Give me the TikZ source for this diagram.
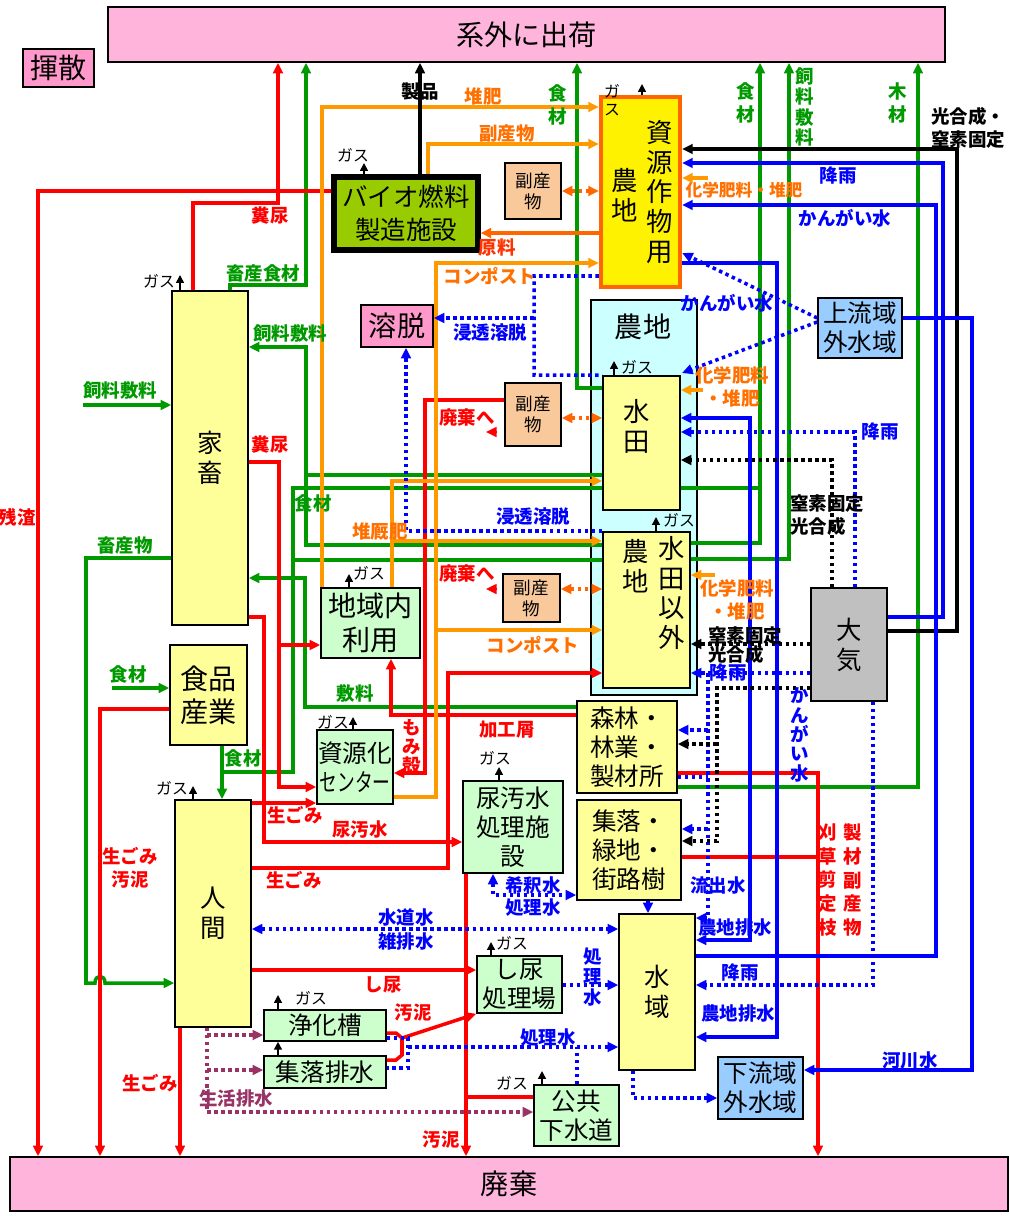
\documentclass[tikz,border=0pt]{standalone}
\usepackage{fontspec}
\usepackage{graphicx}
\setmainfont{Noto Sans CJK JP}
\usetikzlibrary{arrows.meta}

\definecolor{pinkbg}{HTML}{FFB4DC}
\definecolor{pinkdk}{HTML}{FF99CC}
\definecolor{yelbg}{HTML}{FFFF99}
\definecolor{grnbg}{HTML}{CCFFCC}
\definecolor{peachbg}{HTML}{F9C99B}
\definecolor{biobg}{HTML}{99CC00}
\definecolor{blubg}{HTML}{99CCFF}
\definecolor{grybg}{HTML}{C0C0C0}
\definecolor{cyanbg}{HTML}{CCFFFF}
\definecolor{lnred}{HTML}{FF0000}
\definecolor{lngrn}{HTML}{009900}
\definecolor{lnblu}{HTML}{0000FF}
\definecolor{lnorg}{HTML}{FF9900}
\definecolor{lnorgdk}{HTML}{FF6600}
\definecolor{txorg}{HTML}{FF7000}
\definecolor{txorgred}{HTML}{FF3300}
\definecolor{lnpur}{HTML}{993366}

\newcommand\fntA{\fontsize{16}{19}\selectfont}
\newcommand\fntB{\fontsize{14}{16.5}\selectfont}
\newcommand\fntBio{\fontsize{14.5}{18.5}\selectfont}
\newcommand\fntC{\fontsize{10}{12}\selectfont}
\newcommand\fntV{\fontsize{15}{17}\selectfont}
\newcommand\fntP{\fontsize{14.5}{17}\selectfont}
\newcommand\fntL{\bfseries\fontsize{10.5}{13}\selectfont}
\newcommand\fntLS{\bfseries\fontsize{9.5}{12}\selectfont}
\newcommand\fntLVa{\bfseries\fontsize{10.5}{11}\selectfont}
\newcommand\fntLVb{\bfseries\fontsize{10.5}{11.5}\selectfont}
\newcommand\fntLVc{\bfseries\fontsize{10.5}{13.5}\selectfont}
\newcommand\fntLN{\bfseries\fontsize{10.5}{9.5}\selectfont}
\newcommand\fntG{\fontsize{9}{10}\selectfont}

\tikzset{
  box/.style={draw, line width=0.9pt, inner sep=0pt, align=center},
  pinkbox/.style={box, fill=pinkbg, font=\fntA},
  yelbox/.style={box, fill=yelbg},
  grnbox/.style={box, fill=grnbg},
  peachbox/.style={box, fill=peachbg, font=\fntC},
  blubox/.style={box, fill=blubg, font=\fntB},
  txt/.style={inner sep=0pt, align=center},
  flow/.style={line width=2pt},
  ar/.style={-{Triangle[length=6pt,width=5.5pt]}},
  ar2/.style={{Triangle[length=6pt,width=5.5pt]}-{Triangle[length=6pt,width=5.5pt]}},
  dotline/.style={dash pattern=on 2pt off 2pt},
  rd/.style={flow, draw=lnred},
  gr/.style={flow, draw=lngrn},
  bl/.style={flow, draw=lnblu},
  og/.style={flow, draw=lnorg},
  bk/.style={flow, draw=black},
  bld/.style={bl, dotline},
  bkd/.style={bk, dotline},
  ogd/.style={flow, draw=lnorgdk, dotline},
  pud/.style={flow, draw=lnpur, dotline},
  gas/.style={draw=black, line width=0.9pt, -{Triangle[length=4.5pt,width=4.5pt]}},
  gastxt/.style={txt, font=\fntG},
  lab/.style={txt, font=\fntL},
  labr/.style={lab, text=lnred},
  labg/.style={lab, text=lngrn},
  labb/.style={lab, text=lnblu},
  labo/.style={lab, text=txorg},
  labk/.style={lab, text=black},
  labp/.style={lab, text=lnpur}
}

\begin{document}
\begin{tikzpicture}[x=0.02cm, y=-0.02cm]
\useasboundingbox (0,0) rectangle (1009,1216);
% boxes
\node[pinkbox, minimum width=16.74cm, minimum height=1.1cm] (shuka) at (526.5,34.5) {系外に出荷};
\node[pinkbox, minimum width=19.96cm, minimum height=1.08cm] (haiki) at (509,1184) {廃棄};
\node[pinkbox, fill=pinkdk, minimum width=1.42cm, minimum height=0.76cm] (kisan) at (58.5,68) {揮散};
\node[box, fill=biobg, line width=3pt, minimum width=2.88cm, minimum height=1.46cm, font=\fntBio] (bio) at (406,213.5) {バイオ燃料\\製造施設};
\node[peachbox, minimum width=1.12cm, minimum height=1.12cm] (fuku1) at (533,191) {副産\\物};
\node[peachbox, minimum width=1.12cm, minimum height=1.26cm] (fuku2) at (533,414.5) {副産\\物};
\node[peachbox, minimum width=1.14cm, minimum height=0.96cm] (fuku3) at (531.5,598) {副産\\物};
\node[box, fill=yellow, draw=lnorgdk, line width=2.5pt, minimum width=1.58cm, minimum height=3.8cm] (shigen) at (640.5,192) {};
\node[txt, font=\fntV] (shigenA) at (625,195) {農\\地};
\node[txt, font=\fntV] (shigenB) at (660,192) {資\\源\\作\\物\\用};
\node[pinkbox, fill=pinkdk, minimum width=1.44cm, minimum height=0.84cm] (yodatsu) at (397,326) {溶脱};
\node[box, fill=cyanbg, minimum width=2.12cm, minimum height=7.9cm] (nochi) at (644,497.5) {};
\node[txt, font=\fntA] (nochiT) at (643,327) {農地};
\node[yelbox, minimum width=1.54cm, minimum height=2.68cm] (suiden) at (641.5,443) {};
\node[txt, font=\fntV] (suidenT) at (637,426) {水\\田};
\node[yelbox, minimum width=1.74cm, minimum height=3.12cm] (hatake) at (646.5,610) {};
\node[txt, font=\fntV] (hatakeA) at (636,566) {農\\地};
\node[txt, font=\fntV] (hatakeB) at (672,593) {水\\田\\以\\外};
\node[blubox, minimum width=1.68cm, minimum height=1.2cm] (joryu) at (860,328) {上流域\\外水域};
\node[box, fill=grybg, minimum width=1.52cm, minimum height=2.26cm, font=\fntP] (taiki) at (849,644.5) {大\\気};
\node[yelbox, minimum width=1.52cm, minimum height=6.68cm, font=\fntP] (kachiku) at (210,458) {家\\畜};
\node[yelbox, minimum width=1.54cm, minimum height=2cm, font=\fntA] (shokuhin) at (208.5,695) {食品\\産業};
\node[grnbox, minimum width=1.98cm, minimum height=1.4cm, font=\fntA] (chiiki) at (370.5,623) {地域内\\利用};
\node[grnbox, minimum width=1.52cm, minimum height=1.48cm, font=\fntB] (center) at (355,767) {資源化\\\scalebox{0.72}[1]{センター}};
\node[yelbox, minimum width=2cm, minimum height=1.84cm, font=\fntB] (shinrin) at (627,747) {森林・\\林業・\\製材所};
\node[grnbox, minimum width=2cm, minimum height=1.84cm, font=\fntB] (nyoosui) at (513,827) {尿汚水\\処理施\\設};
\node[yelbox, minimum width=2.08cm, minimum height=2cm, font=\fntB] (shuraku) at (629,850) {集落・\\緑地・\\街路樹};
\node[yelbox, minimum width=1.52cm, minimum height=4.54cm, font=\fntP] (ningen) at (213,913.5) {人\\間};
\node[yelbox, minimum width=1.52cm, minimum height=3.12cm, font=\fntP] (suiiki) at (657,992) {水\\域};
\node[grnbox, minimum width=1.7cm, minimum height=1.14cm, font=\fntB] (shinyo) at (519.5,984.5) {し尿\\処理場};
\node[grnbox, minimum width=2.44cm, minimum height=0.62cm, font=\fntB] (jokaso) at (325,1025.5) {浄化槽};
\node[grnbox, minimum width=2.44cm, minimum height=0.64cm, font=\fntB] (haisui) at (325,1072) {集落排水};
\node[grnbox, minimum width=1.7cm, minimum height=1.22cm, font=\fntB] (gesui) at (576.5,1115.5) {公共\\下水道};
\node[blubox, minimum width=1.7cm, minimum height=1.24cm] (karyu) at (760.5,1088) {下流域\\外水域};
% free ends
\coordinate (inShiryo) at (83,405);
\coordinate (inShoku) at (112,688);
\coordinate (toHaiki1) at (486,432);
\coordinate (toHaiki2) at (486,589);
\coordinate (kaOut) at (708,178);
\coordinate (kaIn2) at (703,390);
\coordinate (kaIn3) at (715,575);
% green
\draw[gr,ar] (kachiku.north -| 230,0) |- (306,285) -- (shuka.south -| 306,0);
\draw[gr,ar] (suiden.west |- 0,475) -| (306,347) -- (kachiku.east |- 0,347);
\draw[gr] (hatake.west |- 0,545) -| (306,475);
\draw[gr] (suiden.west |- 0,488) -| (293,772) -- (222,772);
\draw[gr] (hatake.west |- 0,560) -- (293,560);
\draw[gr,ar] (shokuhin.south -| 222,0) -- (ningen.north -| 222,0);
\draw[gr,ar] (suiden.west |- 0,388) -| (shuka.south -| 577,0);
\draw[gr,ar] (suiden.east |- 0,488) -| (shuka.south -| 760,0);
\draw[gr] (hatake.east |- 0,543) -| (760,488);
\draw[gr,ar] (hatake.east |- 0,559) -| (shuka.south -| 789,0);
\draw[gr,ar] (shinrin.east |- 0,787) -| (shuka.south -| 918,0);
\draw[gr,ar] (shinrin.west |- 0,707) -| (305,578) -- (kachiku.east |- 0,578);
\draw[gr,ar] (kachiku.west |- 0,558) -| (86,983) -- (95,983) .. controls (95,974) and (105,974) .. (105,983) -- (ningen.west |- 0,983);
\draw[gr,ar] (inShiryo) -- (kachiku.west |- inShiryo);
\draw[gr,ar] (inShoku) -- (shokuhin.west |- inShoku);
% red
\draw[rd,ar] (kachiku.north -| 193,0) |- (278,203) -- (shuka.south -| 278,0);
\draw[rd,ar] (bio.west |- 0,191) -| (haiki.north -| 38,0);
\draw[rd,ar] (kachiku.east |- 0,462) -| (279,787) -- (center.west |- 0,787);
\draw[rd,ar] (279,645) -- (chiiki.west |- 0,645);
\draw[rd,ar] (kachiku.east |- 0,617) -| (264,842) -- (nyoosui.west |- 0,842);
\draw[rd,ar] (ningen.east |- 0,803) -- (center.west |- 0,803);
\draw[rd,ar] (ningen.east |- 0,868) -| (448,673) -- (hatake.west |- 0,673);
\draw[rd,ar] (fuku2.west |- 0,400) -| (425,773) -- (center.east |- 0,773);
\draw[rd,ar] (shinrin.west |- 0,715) -| (chiiki.south -| 391,0);
\draw[rd,ar] (shokuhin.west |- 0,709) -| (haiki.north -| 100,0);
\draw[rd,ar] (ningen.south -| 180,0) -- (haiki.north -| 180,0);
\draw[rd,ar] (ningen.east |- 0,970) -- (shinyo.west |- 0,970);
\draw[rd] (jokaso.east |- 0,1033) -- (396,1033) -- (402,1038) -- (402,1055) -- (396,1060) -- (haisui.east |- 0,1060);
\draw[rd,ar] (402,1038) -- (shinyo.south west);
\draw[rd,ar] (nyoosui.south -| 466,0) -- (haiki.north -| 466,0);
\draw[rd] (gesui.west |- 0,1097) -- (466,1097);
\draw[rd,ar] (shinrin.east |- 0,773) -| (haiki.north -| 818,0);
\draw[rd] (shuraku.east |- 0,857) -- (818,857);
\draw[rd,ar,line width=1.2pt] (fuku2.west |- 0,432) ++(-7,0) -- (toHaiki1);
\draw[rd,ar,line width=1.2pt] (fuku3.west |- 0,589) ++(-5,0) -- (toHaiki2);
% orange
\draw[og,ar] (chiiki.north -| 322,0) |- (shigen.west |- 0,107);
\draw[og,ar] (bio.north -| 428,0) |- (shigen.west |- 0,144);
\draw[flow,draw=lnorgdk,ar] (shigen.west |- 0,233) -- (bio.east |- 0,233);
\draw[og,ar] (center.east |- 0,797) -| (436,263) -- (shigen.west |- 0,263);
\draw[og,ar] (436,630) -- (hatake.west |- 0,630);
\draw[og,ar] (chiiki.north -| 392,0) |- (suiden.west |- 0,481);
\draw[og,ar] (392,541) -- (hatake.west |- 0,541);
\draw[ogd,ar2] (fuku1.east) -- (shigen.west |- fuku1.east);
\draw[ogd,ar2] (fuku2.east |- 0,418) -- (suiden.west |- 0,418);
\draw[ogd,ar2] (fuku3.east |- 0,589) -- (hatake.west |- 0,589);
\draw[og,ar] (kaOut) -- (shigen.east |- kaOut);
\draw[og,ar] (kaIn2) -- (suiden.east |- kaIn2);
\draw[og,ar] (kaIn3) -- (hatake.east |- kaIn3);
% black
\draw[bk,ar] (bio.north -| 420,0) -- (shuka.south -| 420,0);
\draw[bk,ar] (taiki.east |- 0,631) -| (957,149) -- (shigen.east |- 0,149);
\draw[gas] (haisui.north -| 278,0) -- (jokaso.south -| 278,0);
% blue
\draw[bl,ar] (taiki.east |- 0,617) -| (943,163) -- (shigen.east |- 0,163);
\draw[bl,ar] (suiiki.east |- 0,956) -| (936,205) -- (shigen.east |- 0,205);
\draw[bl,ar] (joryu.east |- 0,318) -| (972,1070) -- (karyu.east |- 0,1070);
\draw[bl,ar] (shigen.east |- 0,263) -| (777,1037) -- (suiiki.east |- 0,1037);
\draw[bl,ar2] (suiden.east |- 0,418) -| (750,940) -- (suiiki.east |- 0,940);
\draw[bl,ar] (shuraku.south -| 648,0) -- (suiiki.north -| 648,0);
% blue dotted
\draw[bld,ar] (joryu.west |- 0,318) -- (shigen.east |- 0,253);
\draw[bld,ar] (joryu.west |- 0,322) -- (682,373);
\draw[bld,ar] (taiki.north -| 855,0) |- (suiden.east |- 0,432);
\draw[bld,ar] (taiki.west |- 0,673) -- (hatake.east |- 0,673);
\draw[bld,ar] (708,673) |- (suiiki.east |- 0,918);
\draw[bld,ar] (708,730) -- (shinrin.east |- 0,730);
\draw[bld,ar] (708,829) -- (shuraku.east |- 0,829);
\draw[bld] (shinrin.east |- 0,777) -- (708,777);
\draw[bld,ar] (taiki.south -| 873,0) |- (suiiki.east |- 0,985);
\draw[bld,ar] (hatake.west |- 0,531) -| (yodatsu.south -| 406,0);
\draw[bld] (shigen.west |- 0,276) -| (534,375) -- (suiden.north west);
\draw[bld,ar] (534,318) -- (yodatsu.east |- 0,318);
\draw[bld,ar2] (ningen.east |- 0,929) -- (suiiki.west |- 0,929);
\draw[bld,ar2] (nyoosui.south -| 493,0) |- (shuraku.west |- 0,895);
\draw[bld,ar] (shinyo.east |- 0,985) -- (suiiki.west |- 0,985);
\draw[bld] (jokaso.east |- 0,1038) -| (408,1068) -- (haisui.east |- 0,1068);
\draw[bld,ar] (408,1047) -- (suiiki.west |- 0,1047);
\draw[bld] (gesui.north -| 577,0) -- (577,1047);
\draw[bld,ar] (suiiki.south -| 633,0) |- (karyu.west |- 0,1098);
% black dotted
\draw[bkd,ar] (taiki.north -| 832,0) |- (suiden.east |- 0,460);
\draw[bkd,ar] (taiki.west |- 0,644) -- (hatake.east |- 0,644);
\draw[bkd,ar] (taiki.west |- 0,688) -| (717,841) -- (shuraku.east |- 0,841);
\draw[bkd,ar] (717,744) -- (shinrin.east |- 0,744);
% purple dotted
\draw[pud,ar] (ningen.south -| 207,0) |- (gesui.west |- 0,1112);
\draw[pud,ar] (207,1035) -- (jokaso.west |- 0,1035);
\draw[pud,ar] (207,1070) -- (haisui.west |- 0,1070);
% gas
\draw[gas] (kachiku.north -| 180,0) -- (180,275);
\draw[gas] (bio.north -| 364,0) -- (364,163);
\draw[gas] (shigen.north -| 642,0) -- (642,84);
\draw[gas] (suiden.north -| 614,0) -- (614,361);
\draw[gas] (hatake.north -| 656,0) -- (656,517);
\draw[gas] (chiiki.north -| 349,0) -- (349,574);
\draw[gas] (center.north -| 353,0) -- (353,717);
\draw[gas] (nyoosui.north -| 499,0) -- (499,767);
\draw[gas] (ningen.north -| 193,0) -- (193,786);
\draw[gas] (shinyo.north -| 491,0) -- (491,942);
\draw[gas] (jokaso.north -| 278,0) -- (278,995);
\draw[gas] (gesui.north -| 542,0) -- (542,1071);
\node[gastxt] (gKachiku) at (159,281) {ガス};
\node[gastxt] (gBio) at (353,155) {ガス};
\node[gastxt] (gShigen) at (612,100) {ガ\\ス};
\node[gastxt] (gSuiden) at (637,367) {ガス};
\node[gastxt] (gHatake) at (679,520) {ガス};
\node[gastxt] (gChiiki) at (369,573) {ガス};
\node[gastxt] (gCenter) at (333,722) {ガス};
\node[gastxt] (gNyoosui) at (495,758) {ガス};
\node[gastxt] (gNingen) at (172,788) {ガス};
\node[gastxt] (gShinyo) at (512,943) {ガス};
\node[gastxt] (gJokaso) at (311,998) {ガス};
\node[gastxt] (gGesui) at (512,1083) {ガス};
% green labels
\node[labg] (tChikuShoku) at (263,273) {畜産食材};
\node[labg] (tShiryoA) at (290,333) {飼料敷料};
\node[labg] (tShiryoB) at (120,390) {飼料敷料};
\node[labg] (tShokuA) at (313,503) {食材};
\node[labg] (tChikuBut) at (125,545) {畜産物};
\node[labg] (tShokuB) at (128,674) {食材};
\node[labg] (tShiki) at (355,693) {敷料};
\node[labg] (tShokuC) at (243,758) {食材};
\node[labg, font=\fntLVc] (tShokuD) at (558,105) {食\\材};
\node[labg, font=\fntLVc] (tShokuE) at (746,103) {食\\材};
\node[labg, font=\fntLVb] (tShiryoC) at (805,107) {飼\\料\\敷\\料};
\node[labg, font=\fntLVc] (tMoku) at (898,103) {木\\材};
% red labels
\node[labr] (tFunA) at (270,216) {糞尿};
\node[labr] (tZansa) at (17,517) {残渣};
\node[labr] (tFunB) at (270,445) {糞尿};
\node[labr] (tHaikiA) at (467,418) {廃棄へ};
\node[labr] (tHaikiB) at (467,574) {廃棄へ};
\node[labr] (tKako) at (507,730) {加工屑};
\node[labr, font=\fntLVa] (tMomi) at (412,747) {も\\み\\殻};
\node[labr] (tNamaA) at (295,815) {生ごみ};
\node[labr] (tNyoosui) at (360,830) {尿汚水};
\node[labr] (tNamaB) at (294,880) {生ごみ};
\node[labr] (tNamaC) at (130,868) {生ごみ\\汚泥};
\node[labr] (tShinyo) at (383,985) {し尿};
\node[labr] (tOdeiA) at (413,1013) {汚泥};
\node[labr] (tNamaD) at (150,1083) {生ごみ};
\node[labr] (tOdeiB) at (441,1140) {汚泥};
\node[labr, font=\fntLVc] (tKarikusa) at (828,880) {刈\\草\\剪\\定\\枝};
\node[labr, font=\fntLVc] (tSeizai) at (853,880) {製\\材\\副\\産\\物};
\node[lab, text=txorgred] (tGenryo) at (497,247) {原料};
% orange labels
\node[labo] (tTaihi) at (483,97) {堆肥};
\node[labo] (tFukuA) at (507,133) {副産物};
\node[labo] (tCompA) at (490,276) {コンポスト};
\node[labo] (tTaikyu) at (380,531) {堆厩肥};
\node[labo] (tCompB) at (533,645) {コンポスト};
\node[labo, font=\fntLS] (tKagakuA) at (744,190) {化学肥料・堆肥};
\node[labo] (tKagakuB) at (732,387) {化学肥料\\・堆肥};
\node[labo] (tKagakuC) at (737,600) {化学肥料\\・堆肥};
% blue labels
\node[labb] (tShintoA) at (490,333) {浸透溶脱};
\node[labb] (tShintoB) at (533,517) {浸透溶脱};
\node[labb] (tKangaiA) at (727,303) {かんがい水};
\node[labb] (tKouuA) at (838,176) {降雨};
\node[labb] (tKangaiB) at (845,218) {かんがい水};
\node[labb] (tKouuB) at (880,432) {降雨};
\node[labb] (tKouuC) at (728,673) {降雨};
\node[labb, font=\fntLVa] (tKangaiC) at (800,735) {か\\ん\\が\\い\\水};
\node[labb] (tRyushutsu) at (718,885) {流出水};
\node[labb] (tKishaku) at (533,885) {希釈水};
\node[labb] (tShoriA) at (533,908) {処理水};
\node[labb] (tSuido) at (406,917) {水道水};
\node[labb] (tZatsu) at (406,941) {雑排水};
\node[labb] (tNochiA) at (735,927) {農地排水};
\node[labb, font=\fntLVb] (tShoriB) at (593,977) {処\\理\\水};
\node[labb] (tKouuD) at (740,973) {降雨};
\node[labb] (tNochiB) at (738,1013) {農地排水};
\node[labb] (tShoriC) at (548,1038) {処理水};
\node[labb] (tKasen) at (910,1061) {河川水};
% black and purple labels
\node[labk] (tSeihin) at (420,92) {製品};
\node[labk, align=left] (tKogoA) at (968,128) {光合成・\\窒素固定};
\node[labk, align=left, anchor=west] (tKogoB) at (790,515) {窒素固定\\光合成};
\node[labk, align=left, anchor=west, font=\fntLN] (tKogoC) at (708,645) {窒素固定\\光合成};
\node[labp] (tSeikatsu) at (236,1098) {生活排水};
\end{tikzpicture}
\end{document}
